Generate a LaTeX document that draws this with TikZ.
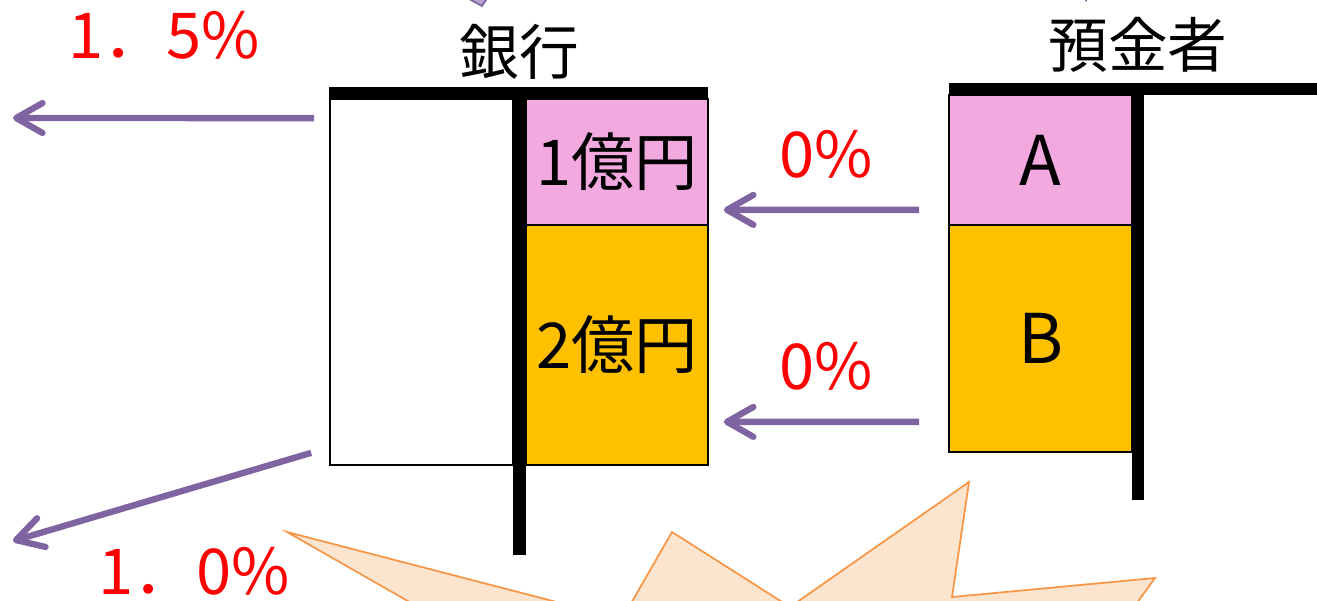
\documentclass[tikz,border=0pt]{standalone}
\usepackage{fontspec}
\setmainfont{Noto Sans CJK JP}
\usetikzlibrary{arrows.meta}
\definecolor{wisteria}{RGB}{128,100,162}
\definecolor{lavender}{RGB}{180,162,210}
\definecolor{orchid}{RGB}{242,169,224}
\definecolor{amber}{RGB}{255,192,0}
\definecolor{tangerine}{RGB}{247,150,70}
\definecolor{peach}{RGB}{253,228,207}
\definecolor{scarlet}{RGB}{255,0,0}
\tikzset{flow/.style={-{Straight Barb[round,length=15pt,width=17pt]},line width=3.6pt,wisteria}}
\tikzset{cell/.style={draw=black,line width=1pt,inner sep=0pt,font=\fontsize{36}{42}\selectfont}}
\tikzset{letter/.style={cell,font=\fontsize{39}{44}\selectfont}}
\tikzset{rate/.style={scarlet,inner sep=0pt,font=\fontsize{36}{42}\selectfont}}
\tikzset{heading/.style={inner sep=0pt,font=\fontsize{34}{40}\selectfont}}

\begin{document}
\begin{tikzpicture}[x=0.02cm,y=-0.02cm]
	\useasboundingbox (0,0) rectangle (1317,601);
	\clip (0,0) rectangle (1317,601);
	\draw[wisteria, fill=lavender, line width=1pt] (460,-6) -- (482,6) -- (490,-6);
	\fill[wisteria] (1083,-4) -- (1086,2) -- (1090,-4) -- cycle;
	\node[cell, minimum width=3.66cm, minimum height=7.32cm] (bankL) at (421.5,282) {};
	\node[cell, fill=orchid, minimum width=3.64cm, minimum height=2.52cm] (yen1) at (617,162) {1億円};
	\node[cell, fill=amber, minimum width=3.64cm, minimum height=4.8cm] (yen2) at (617,345) {2億円};
	\fill (329,87) rectangle (708,99);
	\fill (513,87) rectangle (526,555);
	\node[heading] (bank) at (519,52) {銀行};
	\node[letter, fill=orchid, minimum width=3.66cm, minimum height=2.6cm] (depA) at (1040.5,160) {A};
	\node[letter, fill=amber, minimum width=3.66cm, minimum height=4.54cm] (depB) at (1040.5,338.5) {B};
	\fill (949,83) rectangle (1317,95);
	\fill (1132,83) rectangle (1144,500);
	\node[heading] (saver) at (1138,45) {預金者};
	\coordinate (loan1) at (13,118);
	\coordinate (loan2) at (13,541);
	\draw[flow] ([xshift=-0.3cm,yshift=-0.4cm]bankL.north west) -- (loan1);
	\draw[flow] ([xshift=-0.36cm,yshift=0.26cm]bankL.south west) -- (loan2);
	\draw[flow] ([xshift=-0.58cm,yshift=0.32cm]depA.south west) -- ([xshift=0.3cm,yshift=0.32cm]yen1.south east);
	\draw[flow] ([xshift=-0.58cm,yshift=0.62cm]depB.south west) -- ([xshift=0.3cm,yshift=0.88cm]yen2.south east);
	\node[rate] (r15) at (164,35) {1．5\%};
	\node[rate] (r10) at (194,571) {1．0\%};
	\node[rate] (r0a) at (826,154) {0\%};
	\node[rate] (r0b) at (826,366) {0\%};
	\draw[tangerine, fill=peach, line width=1pt] (287,532) -- (622,619) -- (672,532) -- (790,607) -- (969,482) -- (952,597) -- (1155,578) -- (1110,640) -- (476,640) -- cycle;
\end{tikzpicture}
\end{document}
